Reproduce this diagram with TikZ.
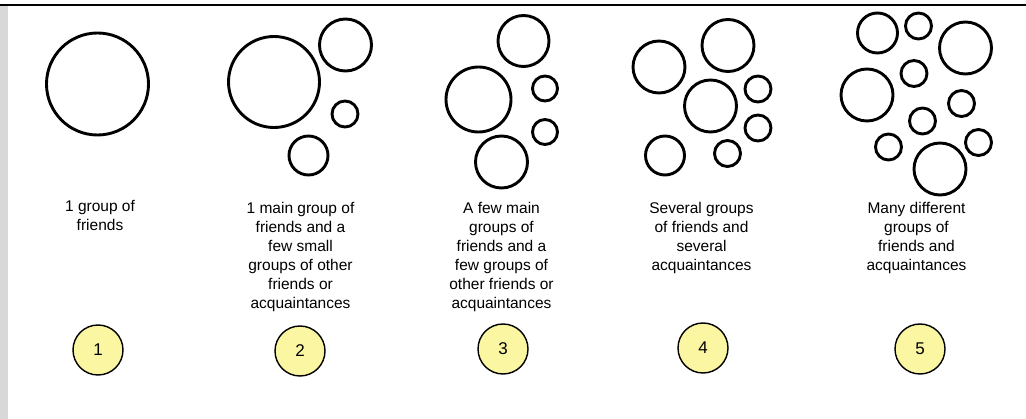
\documentclass[tikz,border=0pt]{standalone}
\usepackage{fontspec}
\setmainfont{Liberation Sans}
\definecolor{badgefill}{RGB}{250,246,162}
\definecolor{sidebar}{RGB}{216,216,216}
\begin{document}
\begin{tikzpicture}[x=1pt,y=-1pt,
  group/.style={draw=black,line width=2.9pt},
  caption/.style={anchor=north,align=center,inner sep=0pt,
    font=\fontsize{15.5}{19}\selectfont},
  badge/.style={circle,draw=black,line width=1.4pt,fill=badgefill,
    minimum size=50pt,inner sep=0pt,font=\fontsize{17}{20}\selectfont}]
\useasboundingbox (0,0) rectangle (1026,419);
\fill[white] (0,0) rectangle (1026,419);
% frame: grey sidebar and rule along the top
\fill[sidebar] (0,6) rectangle (7.5,419);
\draw[line width=2.5pt] (0,5) -- (1026,5);

% 1: one group
\draw[group] (97.5,84) circle (51);

% 2: one main group and a few small ones
\draw[group] (274,82) circle (45.5);
\draw[group] (345.5,45) circle (26);
\draw[group] (345,114) circle (13);
\draw[group] (308.5,155.5) circle (19.5);

% 3: a few main groups
\draw[group] (523.5,41) circle (25.5);
\draw[group] (478.5,99.5) circle (32.5);
\draw[group] (545,88.5) circle (12.5);
\draw[group] (545,132) circle (12.5);
\draw[group] (501.5,162) circle (26);

% 4: several groups
\draw[group] (659,67) circle (26);
\draw[group] (728,45.5) circle (26);
\draw[group] (710.5,106) circle (26);
\draw[group] (758,89) circle (13);
\draw[group] (758,128) circle (13);
\draw[group] (665,155.5) circle (19.5);
\draw[group] (727.5,153.5) circle (13);

% 5: many different groups
\draw[group] (877.5,33) circle (20);
\draw[group] (918.5,26) circle (13);
\draw[group] (965.5,48) circle (26);
\draw[group] (867,95) circle (26);
\draw[group] (914,73.5) circle (13);
\draw[group] (961.5,103.5) circle (13);
\draw[group] (922.5,121) circle (13);
\draw[group] (888.5,147) circle (13);
\draw[group] (978.5,142.5) circle (13);
\draw[group] (940,169) circle (26);

% captions
\node[caption] (t1) at (100,200.5) {1 group of\\friends};
\node[caption] (t2) at (300.5,202) {1 main group of\\friends and a\\few small\\groups of other\\friends or\\acquaintances};
\node[caption] (t3) at (501.5,202) {A few main\\groups of\\friends and a\\few groups of\\other friends or\\acquaintances};
\node[caption] (t4) at (701.5,202) {Several groups\\of friends and\\several\\acquaintances};
\node[caption] (t5) at (916.5,202) {Many different\\groups of\\friends and\\acquaintances};

% numbered badges
\node[badge] (b1) at (98,350) {1};
\node[badge] (b2) at (300,351) {2};
\node[badge] (b3) at (503,349) {3};
\node[badge] (b4) at (703,348) {4};
\node[badge] (b5) at (920,349) {5};
\end{tikzpicture}
\end{document}
